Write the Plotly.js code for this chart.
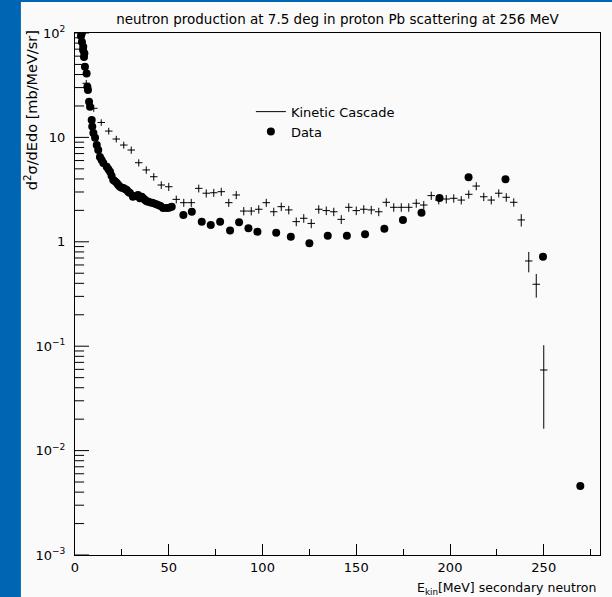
<!DOCTYPE html>
<html>
<head>
<meta charset="utf-8">
<script src="https://cdn.plot.ly/plotly-3.0.1.min.js"></script>
<style>
html,body{margin:0;padding:0;background:#fafafa;}
#chart{width:612px;height:597px;}
</style>
</head>
<body>
<div id="chart"></div>
<script>
// Data (measured) points
const dataE = [3.2, 3.6, 3.7, 4.3, 4.4, 4.8, 5.0, 5.3, 6.2, 6.6, 6.9, 7.5, 8.0, 8.9, 9.2, 9.8, 10.7, 11.6, 12.4, 13.3, 14.2, 15.1, 16.9, 17.8, 18.7, 19.5, 20.4, 21.3, 22.3, 23.1, 24.0, 24.9, 25.8, 26.7, 27.6, 28.5, 29.3, 30.9, 32.2, 33.6, 34.6, 35.6, 36.5, 37.4, 38.2, 39.1, 40.4, 41.6, 43.0, 44.3, 45.6, 47.0, 48.9, 50.2, 51.6, 57.8, 62.3, 67.6, 72.4, 77.4, 82.7, 87.5, 92.5, 97.3, 107.3, 115.1, 125.0, 134.8, 145.0, 154.7, 165.0, 174.9, 184.8, 194.4, 209.9, 229.6, 249.6, 269.5];
const dataV = [93.6, 99, 82, 68.8, 74, 58.9, 64, 47.5, 41, 30.6, 28.4, 22, 19.7, 14.7, 12.7, 11, 9.9, 8.45, 7.57, 6.5, 6.08, 5.7, 5.24, 4.95, 4.69, 4.3, 3.91, 3.8, 3.66, 3.5, 3.37, 3.3, 3.28, 3.2, 3.13, 3.0, 2.93, 2.70, 2.75, 2.81, 2.62, 2.70, 2.6, 2.51, 2.45, 2.42, 2.38, 2.35, 2.3, 2.25, 2.2, 2.11, 2.11, 2.12, 2.17, 1.81, 1.94, 1.56, 1.45, 1.56, 1.28, 1.54, 1.35, 1.25, 1.22, 1.12, 0.97, 1.14, 1.14, 1.18, 1.33, 1.62, 1.90, 2.63, 4.15, 3.97, 0.72, 0.00458];

// Kinetic Cascade histogram (bin centres, values, errors)
const cascadeE = [6, 10, 14, 18, 22, 26, 30, 34, 38, 42, 46, 50, 54, 58, 62, 66, 70, 74, 78, 82, 86, 90, 94, 98, 102, 106, 110, 114, 118, 122, 126, 130, 134, 138, 142, 146, 150, 154, 158, 162, 166, 170, 174, 178, 182, 186, 190, 194, 198, 202, 206, 210, 214, 218, 222, 226, 230, 234, 238, 242, 246, 250];
const cascadeV = [33, 19.0, 13.9, 11.5, 9.65, 8.45, 7.57, 5.72, 4.88, 4.20, 3.50, 3.37, 2.55, 2.37, 2.37, 3.25, 2.92, 2.95, 3.02, 2.37, 2.81, 1.97, 1.97, 2.05, 2.37, 1.94, 2.17, 2.02, 1.56, 1.68, 1.50, 2.05, 1.99, 1.94, 1.64, 2.14, 1.99, 2.05, 2.02, 1.94, 2.39, 2.14, 2.14, 2.14, 2.34, 2.25, 2.77, 2.51, 2.57, 2.61, 2.51, 2.85, 3.42, 2.70, 2.51, 2.92, 2.67, 2.39, 1.62, 0.655, 0.392, 0.0592];
const cascadeErr = [2.5, 1.4, 1.0, 0.85, 0.7, 0.65, 0.6, 0.45, 0.4, 0.35, 0.3, 0.3, 0.22, 0.21, 0.21, 0.28, 0.26, 0.26, 0.27, 0.21, 0.25, 0.18, 0.18, 0.19, 0.21, 0.18, 0.2, 0.19, 0.15, 0.16, 0.15, 0.19, 0.19, 0.18, 0.16, 0.2, 0.19, 0.19, 0.19, 0.18, 0.22, 0.2, 0.2, 0.2, 0.22, 0.21, 0.25, 0.23, 0.24, 0.24, 0.23, 0.26, 0.3, 0.25, 0.23, 0.26, 0.25, 0.22, 0.22, 0.145, 0.1, 0.043];
const binHalfWidth = 2;

const xRange = [0, 280];
const xTicks = [0, 50, 100, 150, 200, 250];
const yRangeLog = [-3, 2];
const yMajorTicks = [0.001, 0.01, 0.1, 1, 10, 100];
const yMajorLabels = ['10<sup>−3</sup>', '10<sup>−2</sup>', '10<sup>−1</sup>', '1', '10', '10<sup>2</sup>'];
const yDecades = [0.001, 0.01, 0.1, 1, 10];
const yMinorDigits = [2, 3, 4, 5, 6, 7, 8, 9];

const yMinorTicks = [];
yDecades.forEach(d => yMinorDigits.forEach(m => yMinorTicks.push(+(m * d).toPrecision(3))));

const FONT = 'DejaVu Sans, Liberation Sans, sans-serif';

const traces = [
  {
    x: cascadeE, y: cascadeV, type: 'scatter', mode: 'markers',
    marker: {size: 1, color: 'black'},
    error_y: {type: 'data', array: cascadeErr, visible: true, thickness: 1, width: 0, color: 'black'},
    error_x: {type: 'constant', value: binHalfWidth, visible: true, thickness: 1, width: 0, color: 'black'},
    showlegend: false, hoverinfo: 'x+y'
  },
  {
    x: [null], y: [null], type: 'scatter', mode: 'lines',
    name: 'Kinetic Cascade', line: {color: 'black', width: 1}
  },
  {
    x: dataE, y: dataV, type: 'scatter', mode: 'markers', name: 'Data',
    marker: {symbol: 'circle', size: 8, color: 'black'}
  },
  // y-axis inside tick marks: horizontal line markers centred on the left axis edge (the outer half is clipped)
  {
    x: yMajorTicks.map(() => xRange[0]), y: yMajorTicks, type: 'scatter', mode: 'markers',
    cliponaxis: true, showlegend: false, hoverinfo: 'skip',
    marker: {symbol: 'line-ew', size: 20, color: 'black', line: {width: 1, color: 'black'}}
  },
  {
    x: yMinorTicks.map(() => xRange[0]), y: yMinorTicks, type: 'scatter', mode: 'markers',
    cliponaxis: true, showlegend: false, hoverinfo: 'skip',
    marker: {symbol: 'line-ew', size: 13, color: 'black', line: {width: 1, color: 'black'}}
  }
];

const layout = {
  width: 612, height: 597,
  paper_bgcolor: '#fafafa', plot_bgcolor: '#fafafa',
  margin: {l: 75, r: 12, t: 33, b: 42},
  font: {family: FONT, size: 13, color: 'black'},
  title: {text: 'neutron production at 7.5 deg in proton Pb scattering at 256 MeV',
          x: 0.5, xref: 'paper', xanchor: 'center', y: 0.968, yref: 'container', yanchor: 'middle',
          font: {family: FONT, size: 13.5, color: 'black'}},
  xaxis: {
    range: xRange, tickvals: xTicks, ticktext: xTicks.map(String),
    ticks: 'inside', ticklen: 11, tickwidth: 1, tickcolor: 'black',
    minor: {dtick: 25, tick0: 0, ticks: 'inside', ticklen: 6, tickcolor: 'black', showgrid: false},
    showline: true, linecolor: 'black', linewidth: 1, mirror: true,
    showgrid: false, zeroline: false, tickfont: {family: FONT, size: 13}
  },
  yaxis: {
    type: 'log', range: yRangeLog, tickmode: 'array', tickvals: yMajorTicks, ticktext: yMajorLabels,
    ticks: '', ticklabelstandoff: 6,
    showline: true, linecolor: 'black', linewidth: 1, mirror: true,
    showgrid: false, zeroline: false, tickfont: {family: FONT, size: 13}
  },
  showlegend: true,
  legend: {x: 0.335, y: 0.878, xanchor: 'left', yanchor: 'top', bgcolor: 'rgba(0,0,0,0)',
           font: {family: FONT, size: 13}, tracegroupgap: 0},
  annotations: [
    {text: 'd<sup>2</sup>σ/dEdo [mb/MeV/sr]', xref: 'paper', yref: 'paper',
     x: -0.085, y: 1.01, xanchor: 'center', yanchor: 'top', textangle: -90, showarrow: false,
     font: {family: FONT, size: 14.5}},
    {text: 'E<sub>kin</sub>[MeV] secondary neutron', xref: 'paper', yref: 'paper',
     x: 0.996, y: -0.045, xanchor: 'right', yanchor: 'top', showarrow: false,
     font: {family: FONT, size: 12.5}}
  ],
  shapes: [
    {type: 'rect', xref: 'paper', yref: 'paper', x0: -0.15, x1: -0.103, y0: -0.1, y1: 1.07,
     fillcolor: '#0066b3', line: {width: 0}},
    {type: 'rect', xref: 'paper', yref: 'paper', x0: -0.15, x1: 1.03, y0: 1.0594, y1: 1.07,
     fillcolor: '#0066b3', line: {width: 0}}
  ]
};

Plotly.newPlot('chart', traces, layout, {displayModeBar: false, staticPlot: true});
</script>
</body>
</html>
